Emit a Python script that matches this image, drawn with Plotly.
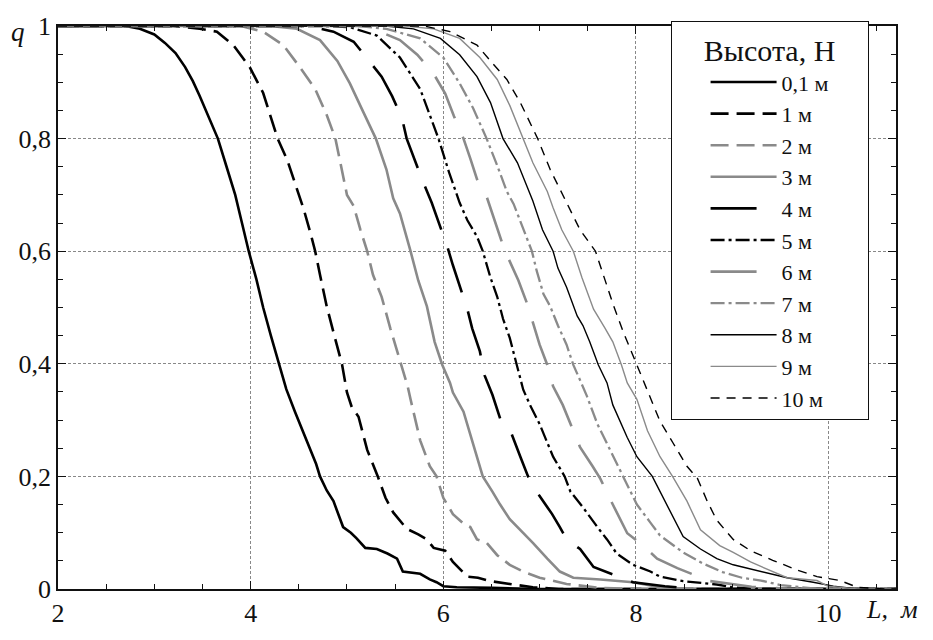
import plotly.graph_objects as go

# Вероятность q в зависимости от расстояния L для разных высот H
heights = ["0,1 м", "1 м", "2 м", "3 м", "4 м", "5 м", "6 м", "7 м", "8 м", "9 м", "10 м"]

L_01 = [2.0, 2.7, 2.85, 3.0, 3.11, 3.22, 3.32, 3.40, 3.47, 3.56, 3.66, 3.75, 3.84, 3.91, 3.98, 4.06, 4.13, 4.21,
        4.29, 4.37, 4.46, 4.54, 4.62, 4.68, 4.72, 4.79, 4.86, 4.93, 4.96, 5.04, 5.10, 5.19, 5.31, 5.42, 5.52, 5.58,
        5.67, 5.76, 5.86, 5.93, 6.0, 6.14, 6.5, 7.0, 10.7]
q_01 = [1, 1, 0.995, 0.985, 0.97, 0.952, 0.927, 0.902, 0.876, 0.84, 0.80, 0.75, 0.70, 0.65, 0.60, 0.55, 0.50, 0.45,
        0.40, 0.355, 0.315, 0.28, 0.247, 0.222, 0.20, 0.175, 0.156, 0.122, 0.11, 0.10, 0.09, 0.073, 0.071, 0.063,
        0.054, 0.031, 0.029, 0.027, 0.017, 0.012, 0.005, 0.003, 0.002, 0, 0]

L_1 = [2.0, 3.2, 3.47, 3.65, 3.82, 3.99, 4.13, 4.21, 4.28, 4.38, 4.48, 4.55, 4.62, 4.67, 4.72, 4.79, 4.86, 4.95, 5.0,
       5.05, 5.12, 5.21, 5.32, 5.40, 5.48, 5.62, 5.74, 5.83, 5.90, 6.02, 6.10, 6.25, 6.36, 6.49, 6.69, 6.93, 7.2, 10.7]
q_1 = [1, 1, 0.995, 0.99, 0.966, 0.927, 0.881, 0.84, 0.80, 0.762, 0.711, 0.675, 0.633, 0.60, 0.558, 0.502, 0.456,
       0.398, 0.349, 0.323, 0.306, 0.247, 0.20, 0.162, 0.136, 0.107, 0.097, 0.088, 0.073, 0.068, 0.048, 0.022, 0.02,
       0.014, 0.009, 0.003, 0, 0]

L_2 = [2.0, 3.9, 4.13, 4.34, 4.51, 4.67, 4.79, 4.88, 5.0, 5.07, 5.14, 5.21, 5.27, 5.36, 5.45, 5.56, 5.63, 5.66, 5.76,
       5.86, 5.93, 6.0, 6.10, 6.21, 6.28, 6.35, 6.45, 6.56, 6.69, 6.83, 7.0, 7.28, 7.63, 8.0, 10.7]
q_2 = [1, 1, 0.99, 0.966, 0.927, 0.888, 0.842, 0.80, 0.70, 0.68, 0.638, 0.60, 0.558, 0.519, 0.463, 0.398, 0.36,
       0.337, 0.264, 0.218, 0.20, 0.162, 0.133, 0.116, 0.11, 0.088, 0.082, 0.06, 0.043, 0.031, 0.02, 0.009, 0.002,
       0, 0]

L_3 = [2.0, 4.2, 4.48, 4.72, 4.90, 5.03, 5.17, 5.30, 5.41, 5.48, 5.55, 5.62, 5.66, 5.74, 5.83, 5.91, 5.99, 6.07,
       6.10, 6.21, 6.30, 6.41, 6.51, 6.59, 6.69, 6.80, 6.93, 7.08, 7.21, 7.35, 7.63, 7.97, 8.25, 8.6, 10.7]
q_3 = [1, 1, 0.995, 0.975, 0.938, 0.898, 0.847, 0.80, 0.745, 0.694, 0.667, 0.626, 0.60, 0.548, 0.502, 0.439,
       0.398, 0.366, 0.349, 0.315, 0.264, 0.20, 0.173, 0.15, 0.124, 0.105, 0.082, 0.054, 0.031, 0.02, 0.017, 0.012,
       0.003, 0, 0]

L_4 = [2.0, 4.6, 4.86, 5.07, 5.22, 5.36, 5.47, 5.57, 5.62, 5.70, 5.79, 5.88, 5.97, 6.04, 6.10, 6.21, 6.25, 6.30,
       6.38, 6.43, 6.51, 6.59, 6.71, 6.80, 6.88, 7.0, 7.13, 7.21, 7.28, 7.42, 7.56, 7.76, 7.97, 8.3, 8.6, 10.7]
q_4 = [1, 1, 0.99, 0.972, 0.94, 0.91, 0.875, 0.837, 0.80, 0.763, 0.723, 0.686, 0.643, 0.609, 0.575, 0.519, 0.497,
       0.463, 0.422, 0.379, 0.345, 0.303, 0.275, 0.235, 0.20, 0.165, 0.133, 0.11, 0.088, 0.071, 0.039, 0.026, 0.012,
       0.005, 0, 0]

L_5 = [2.0, 4.8, 5.03, 5.31, 5.55, 5.76, 5.86, 5.95, 6.06, 6.17, 6.25, 6.35, 6.41, 6.49, 6.56, 6.62, 6.69, 6.76,
       6.83, 6.90, 7.0, 7.14, 7.21, 7.26, 7.32, 7.45, 7.60, 7.70, 7.80, 7.97, 8.15, 8.25, 8.49, 8.84, 9.0, 9.3, 10.7]
q_5 = [1, 1, 0.998, 0.983, 0.944, 0.888, 0.842, 0.80, 0.74, 0.686, 0.655, 0.626, 0.60, 0.553, 0.519, 0.48, 0.446,
       0.398, 0.354, 0.327, 0.293, 0.235, 0.213, 0.20, 0.173, 0.145, 0.11, 0.088, 0.063, 0.043, 0.031, 0.022,
       0.014, 0.008, 0.003, 0, 0]

L_6 = [2.0, 5.2, 5.55, 5.73, 5.90, 6.02, 6.11, 6.21, 6.28, 6.35, 6.45, 6.52, 6.59, 6.64, 6.69, 6.78, 6.87, 6.93,
       7.0, 7.08, 7.14, 7.24, 7.32, 7.42, 7.55, 7.63, 7.76, 7.91, 8.04, 8.22, 8.43, 8.77, 9.2, 9.6, 10.7]
q_6 = [1, 1, 0.975, 0.949, 0.915, 0.88, 0.84, 0.80, 0.765, 0.728, 0.697, 0.66, 0.626, 0.60, 0.582, 0.548, 0.507,
       0.473, 0.434, 0.398, 0.36, 0.327, 0.293, 0.252, 0.218, 0.196, 0.15, 0.099, 0.082, 0.054, 0.037, 0.014,
       0.004, 0, 0]

L_7 = [2.0, 5.1, 5.41, 5.76, 6.0, 6.17, 6.31, 6.45, 6.56, 6.66, 6.73, 6.82, 6.92, 6.97, 7.04, 7.11, 7.19, 7.28,
       7.35, 7.42, 7.49, 7.60, 7.73, 7.87, 8.01, 8.15, 8.25, 8.49, 8.7, 8.9, 9.1, 9.3, 9.5, 9.9, 10.7]
q_7 = [1, 1, 0.995, 0.978, 0.944, 0.898, 0.854, 0.80, 0.752, 0.706, 0.684, 0.643, 0.60, 0.565, 0.524, 0.502,
       0.468, 0.434, 0.398, 0.371, 0.343, 0.293, 0.247, 0.20, 0.15, 0.118, 0.095, 0.065, 0.045, 0.03, 0.02, 0.015,
       0.007, 0, 0]

L_8 = [2.0, 5.4, 5.69, 5.97, 6.17, 6.35, 6.49, 6.62, 6.77, 6.90, 6.93, 7.03, 7.14, 7.19, 7.28, 7.39, 7.45, 7.52,
       7.61, 7.70, 7.76, 7.91, 8.01, 8.17, 8.32, 8.49, 8.67, 8.84, 9.01, 9.15, 9.36, 9.57, 9.84, 10.05, 10.3, 10.7]
q_8 = [1, 1, 0.995, 0.978, 0.949, 0.91, 0.864, 0.80, 0.757, 0.70, 0.689, 0.638, 0.60, 0.57, 0.536, 0.485, 0.468,
       0.439, 0.398, 0.366, 0.327, 0.269, 0.235, 0.20, 0.15, 0.093, 0.071, 0.054, 0.043, 0.037, 0.029, 0.02, 0.012,
       0.005, 0, 0]

L_9 = [2.0, 5.6, 5.90, 6.17, 6.38, 6.56, 6.69, 6.83, 6.93, 7.08, 7.14, 7.23, 7.35, 7.44, 7.56, 7.68, 7.76, 7.85,
       7.91, 8.01, 8.12, 8.25, 8.38, 8.53, 8.67, 8.87, 9.01, 9.19, 9.42, 9.57, 9.88, 9.99, 10.3, 10.7]
q_9 = [1, 1, 0.995, 0.978, 0.944, 0.905, 0.859, 0.80, 0.757, 0.706, 0.677, 0.638, 0.60, 0.553, 0.497, 0.463, 0.439,
       0.398, 0.366, 0.337, 0.281, 0.235, 0.20, 0.156, 0.105, 0.077, 0.065, 0.048, 0.031, 0.02, 0.015, 0.005, 0, 0]

L_10 = [2.0, 5.8, 6.07, 6.35, 6.52, 6.66, 6.80, 6.98, 7.11, 7.24, 7.32, 7.42, 7.58, 7.66, 7.76, 7.87, 8.01, 8.08,
        8.18, 8.25, 8.39, 8.53, 8.64, 8.74, 8.84, 9.01, 9.19, 9.42, 9.67, 9.88, 10.12, 10.3, 10.6, 10.7]
q_10 = [1, 1, 0.99, 0.966, 0.932, 0.905, 0.864, 0.80, 0.745, 0.70, 0.672, 0.638, 0.60, 0.558, 0.507, 0.456, 0.398,
        0.371, 0.327, 0.298, 0.258, 0.218, 0.196, 0.156, 0.122, 0.088, 0.068, 0.051, 0.034, 0.022, 0.015, 0.003,
        0, 0]

L_series = [L_01, L_1, L_2, L_3, L_4, L_5, L_6, L_7, L_8, L_9, L_10]
q_series = [q_01, q_1, q_2, q_3, q_4, q_5, q_6, q_7, q_8, q_9, q_10]

x_ticks = [2, 4, 6, 8, 10]
y_ticks = [0, 0.2, 0.4, 0.6, 0.8, 1]

BLACK = "#000000"
GRAY = "#8a8a8a"
styles = [
    dict(color=BLACK, width=2.6, dash="solid"),
    dict(color=BLACK, width=2.6, dash="18px,8px"),
    dict(color=GRAY, width=2.6, dash="18px,8px"),
    dict(color=GRAY, width=2.6, dash="solid"),
    dict(color=BLACK, width=2.6, dash="46px,20px"),
    dict(color=BLACK, width=2.3, dash="14px,4px,3px,4px"),
    dict(color=GRAY, width=2.6, dash="46px,20px"),
    dict(color=GRAY, width=2.3, dash="14px,4px,3px,4px"),
    dict(color=BLACK, width=1.4, dash="solid"),
    dict(color=GRAY, width=1.4, dash="solid"),
    dict(color=BLACK, width=1.4, dash="9px,7px"),
]

SERIF = "Liberation Serif, Times New Roman, serif"
TXT = "#111111"
NBSP = "\u00a0"

fig = go.Figure()
for name, xs, ys, st in zip(heights, L_series, q_series, styles):
    fig.add_trace(go.Scatter(x=xs, y=ys, mode="lines", name=name, line=st))

axis_common = dict(
    showline=True, linecolor=TXT, linewidth=1.6, mirror="allticks",
    ticks="inside", ticklen=8, tickwidth=1, tickcolor=TXT,
    showgrid=True, gridcolor="#888888", griddash="3px,2px", gridwidth=1,
    zeroline=False,
    tickfont=dict(family=SERIF, size=26, color=TXT),
)

fig.update_xaxes(range=[2, 10.7], tickvals=x_ticks,
                 minor=dict(dtick=0.5, ticks="inside", ticklen=5, tickcolor=TXT, showgrid=False),
                 **axis_common)
fig.update_yaxes(range=[0, 1], tickvals=y_ticks,
                 minor=dict(dtick=0.05, ticks="inside", ticklen=5, tickcolor=TXT, showgrid=False),
                 **axis_common)

# подписи осей
fig.add_annotation(text="<i>q</i>", xref="paper", yref="paper", x=-0.048, y=0.99,
                   xanchor="center", yanchor="middle", showarrow=False,
                   font=dict(family=SERIF, size=27, color=TXT))
fig.add_annotation(text="<i>L,  м</i>", xref="paper", yref="paper", x=0.962, y=-0.036,
                   xanchor="left", yanchor="middle", showarrow=False,
                   font=dict(family=SERIF, size=26, color=TXT))

legend_title = NBSP * 4 + "Высота, Н" + NBSP * 4

fig.update_layout(
    width=933, height=640,
    margin=dict(l=58, r=37, t=17, b=34),
    paper_bgcolor="white", plot_bgcolor="white",
    separators=", ",
    showlegend=True,
    legend=dict(
        x=0.731, y=1.0085, xanchor="left", yanchor="top",
        bgcolor="white", bordercolor=TXT, borderwidth=1,
        font=dict(family=SERIF, size=22, color=TXT),
        title=dict(text=legend_title, side="top center",
                   font=dict(family=SERIF, size=30, color=TXT)),
        traceorder="normal", indentation=34, itemwidth=66,
        maxheight=620,
    ),
)

fig.write_html("out.html")
